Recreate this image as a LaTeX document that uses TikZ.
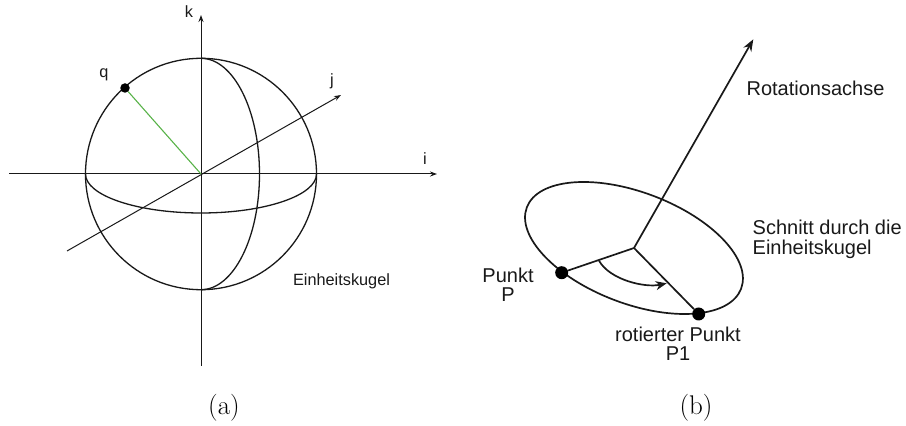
\documentclass[tikz,border=0pt]{standalone}
\usepackage{fontspec}
\setsansfont{Liberation Sans}
\usetikzlibrary{arrows.meta}
\definecolor{ink}{gray}{0.1}
\definecolor{qgreen}{RGB}{88,178,72}
\tikzset{
  x=1pt,y=1pt,
  axisline/.style={draw=ink,line width=1pt},
  axisarrow/.style={axisline,-{Stealth[length=7pt,width=5pt]}},
  sphereline/.style={draw=ink,line width=1.3pt},
  cutline/.style={draw=ink,line width=1.7pt},
  lab/.style={font=\sffamily\fontsize{16.3}{19}\selectfont,text=ink,inner sep=0pt},
  labb/.style={font=\sffamily\fontsize{20}{19.5}\selectfont,text=ink,inner sep=0pt,align=center},
  labl/.style={labb,align=left,anchor=west},
  subcap/.style={font=\fontsize{27}{30}\selectfont,text=black,inner sep=0pt},
  dotq/.style={circle,fill=black,inner sep=0pt,minimum size=9.5pt},
  dotp/.style={circle,fill=black,inner sep=0pt,minimum size=13pt},
}
\begin{document}
\begin{tikzpicture}
\useasboundingbox (0,0) rectangle (906,426);
% (a)
\coordinate (O) at (201,252);
\coordinate (il) at (9,252);
\coordinate (ir) at (437,252);
\coordinate (kb) at (201,60);
\coordinate (kt) at (201,411);
\coordinate (jb) at (67,175);
\coordinate (jt) at (341,331);
\draw[sphereline] (O) circle[x radius=115.5,y radius=115.7];
\draw[sphereline] (85.5,252) arc[start angle=180,end angle=360,x radius=115.5,y radius=39];
\draw[sphereline] (201,367.7) arc[start angle=90,end angle=-90,x radius=58.5,y radius=115.7];
\draw[axisarrow] (il) -- (ir);
\draw[axisarrow] (kb) -- (kt);
\draw[axisarrow] (jb) -- (jt);
\node[dotq] (q) at (125,338) {};
\draw[qgreen,line width=1.1pt] (O) -- (q);
\node[lab] (lk) at (189,414.5) {k};
\node[lab] (lq) at (104,351.5) {q};
\node[lab] (lj) at (332,344.5) {j};
\node[lab] (li) at (425,267) {i};
\node[lab] (lE) at (341.5,145) {Einheitskugel};
\node[subcap] (ca) at (224,18.5) {(a)};
% (b)
\coordinate (C) at (634,178);
\coordinate (T) at (753.3,386.7);
\draw[cutline,-{Stealth[length=12pt,width=9pt]}] (C) -- (T);
\draw[cutline,rotate around={-20.8:(C)}] (C) ellipse[x radius=114.6,y radius=55.6];
\node[dotp] (P) at (561.7,153.3) {};
\node[dotp] (P1) at (698.7,112) {};
\draw[cutline] (C) -- (P);
\draw[cutline] (C) -- (P1);
\coordinate (As) at (599,165.3);
\coordinate (Ae) at (666.7,142.7);
\draw[cutline,-{Stealth[length=11pt,width=9pt]}] (As) .. controls (610,146) and (645,138) .. (Ae);
\node[labb] (lR) at (815.5,338) {Rotationsachse};
\node[labl] (lS) at (752.5,186.5) {Schnitt durch die\\Einheitskugel};
\node[labb] (lP) at (508,141) {Punkt\\P};
\node[labb] (lP1) at (678,82) {rotierter Punkt\\P1};
\node[subcap] (cb) at (696,18.5) {(b)};
\end{tikzpicture}
\end{document}
